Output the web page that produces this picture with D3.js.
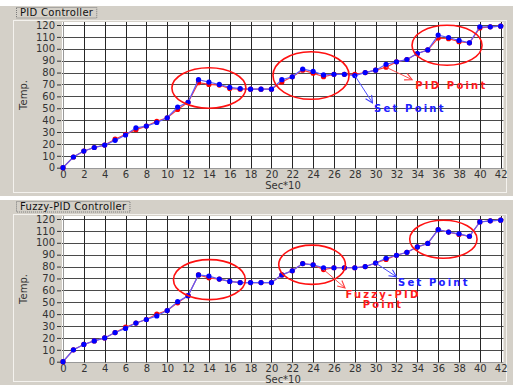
<!DOCTYPE html>
<html>
<head>
<meta charset="utf-8">
<script src="https://cdn.jsdelivr.net/npm/d3@7"></script>
<style>
  body { margin: 0; background: #fff; }
  svg { display: block; font-family: 'DejaVu Sans', sans-serif; }
</style>
</head>
<body>
<div id="chart"></div>
<script>
// time axis in Sec*10
const sec = [0,1,2,3,4,5,6,7,8,9,10,11,12,13,14,15,16,17,18,19,20,
  21,22,23,24,25,26,27,28,29,30,31,32,33,34,35,36,37,38,39,40,41,42];
const xTickValues = [0,2,4,6,8,10,12,14,16,18,20,22,24,26,28,30,32,34,36,38,40,42];
const yTickValues = [0,10,20,30,40,50,60,70,80,90,100,110,120];

// PID controller panel
const pidSetPoint = [0,9,14,17,19,23,27.5,33.5,35,38,42,51,55,74,72,70,67.5,66.5,66,66,66,
  74,76.5,83,81,78,78.5,78.5,77.5,80,82,87,89,91,96,99,111.5,109.5,107,105,118.5,118.5,119];
const pidPoint = [0,9,14,17,19,24,28,32,35,39,42,49,55,71.5,70,69.5,66.5,66,66,66,66,
  72,76.5,82,79.5,76.5,78.5,78.5,78.5,80,82,84.5,89,91,96,99,109,108.5,106,105,117.5,118.5,119];

// Fuzzy-PID controller panel
const fuzzySetPoint = [0,10,14.5,17.5,20,24.5,28,32.5,35.5,38.5,43,50.5,55.5,73,72,69.5,67.5,66.5,66.5,66.5,66.5,
  73,76.5,82.5,81.5,79,79,79,79,80,83,87,89.5,92,96.5,99.5,111,109,107.5,105.5,117.5,118.5,119];
const fuzzyPidPoint = [0,10,14.5,17.5,20,24.5,29,32.5,35.5,40,43,49.5,55.5,73,70.5,69.5,67.5,66.5,66.5,66.5,66.5,
  73,76.5,82.5,81.5,77.5,79,79,79,80,83,86,89.5,92,96.5,99.5,111,109,107,105.5,117.5,118.5,119];

const width = 513, height = 387;
const grey = '#d4d0c8';

const svg = d3.select('#chart').append('svg')
  .attr('width', width)
  .attr('height', height);

// arrow heads
const defs = svg.append('defs');
[['arrowBlue', '#3c3cff'], ['arrowRed', '#ff3c3c']].forEach(([id, c]) => {
  defs.append('marker')
    .attr('id', id)
    .attr('viewBox', '0 0 10 10')
    .attr('refX', 9).attr('refY', 5)
    .attr('markerWidth', 9).attr('markerHeight', 9)
    .attr('markerUnits', 'userSpaceOnUse')
    .attr('orient', 'auto')
    .append('path')
    .attr('d', 'M1,1 L9,5 L1,9')
    .attr('fill', 'none')
    .attr('stroke', c)
    .attr('stroke-width', 1.2);
});

function drawPanel(cfg) {
  let oy = cfg.top;
  let g = svg.append('g');

  // panel background + frame
  g.append('rect')
    .attr('x', 0).attr('y', oy + 6)
    .attr('width', width).attr('height', cfg.panelH)
    .attr('fill', grey);
  g.append('rect')
    .attr('x', 13.5).attr('y', oy + 20.5)
    .attr('width', 493).attr('height', cfg.panelH - 18)
    .attr('fill', 'none')
    .attr('stroke', '#f4f2ee');

  // title label
  let title = g.append('text')
    .attr('x', 20).attr('y', oy + 16)
    .attr('font-size', '10px')
    .attr('letter-spacing', '0.3px')
    .attr('fill', '#111')
    .text(cfg.title);
  let tw = title.node().getComputedTextLength();
  g.insert('rect', 'text')
    .attr('x', 16.5).attr('y', oy + 7.5)
    .attr('width', tw + 7).attr('height', 10.5)
    .attr('fill', grey)
    .attr('stroke', '#7a7a7a')
    .attr('stroke-dasharray', '1,1');

  // scales
  let x = d3.scaleLinear().domain([0, 42]).range([63, 500.7]);
  let y = d3.scaleLinear().domain([0, 120]).range([oy + 167.7, oy + 25]);

  // plot area
  g.append('rect')
    .attr('x', 62).attr('y', oy + 22)
    .attr('width', 441.5).attr('height', 146.5)
    .attr('fill', '#fff');

  // grid
  g.append('g').selectAll('line')
    .data(yTickValues)
    .enter().append('line')
    .attr('x1', 62).attr('x2', 503.5)
    .attr('y1', d => Math.round(y(d)) + 0.5)
    .attr('y2', d => Math.round(y(d)) + 0.5)
    .attr('stroke', d => d === 0 ? '#999' : '#4a4a4a');
  g.append('g').selectAll('line')
    .data(xTickValues)
    .enter().append('line')
    .attr('x1', d => Math.round(x(d)) + 0.5)
    .attr('x2', d => Math.round(x(d)) + 0.5)
    .attr('y1', oy + 22).attr('y2', oy + 168.5)
    .attr('stroke', d => d === 0 ? '#999' : '#262626');

  // axes
  let yAxis = d3.axisLeft(y).tickValues(yTickValues).tickSize(4).tickPadding(2);
  let ya = g.append('g')
    .attr('transform', 'translate(61,0)')
    .call(yAxis);
  let xAxis = d3.axisBottom(x).tickValues(xTickValues).tickSize(0).tickPadding(3);
  let xa = g.append('g')
    .attr('transform', 'translate(0,' + (oy + 167.7) + ')')
    .call(xAxis);
  [ya, xa].forEach(a => {
    a.select('.domain').remove();
    a.selectAll('line').attr('stroke', '#333');
    a.selectAll('text')
      .attr('font-family', "'DejaVu Sans', sans-serif")
      .attr('font-size', '10px')
      .attr('fill', '#333');
  });

  g.append('text')
    .attr('x', 283).attr('y', oy + 189)
    .attr('text-anchor', 'middle')
    .attr('font-size', '10px')
    .attr('fill', '#333')
    .text('Sec*10');
  g.append('text')
    .attr('transform', 'translate(27,' + (oy + 95) + ') rotate(-90)')
    .attr('text-anchor', 'middle')
    .attr('font-size', '10px')
    .attr('fill', '#333')
    .text('Temp.');

  // series: actual (red) under set point (blue)
  let line = d3.line().x((d, i) => x(sec[i])).y(d => y(d));
  [[cfg.actual, '#ff3a3a', '#ff0000'], [cfg.set, '#5a5aff', '#0000ff']].forEach(([vals, lc, mc]) => {
    g.append('path')
      .datum(vals)
      .attr('d', line)
      .attr('fill', 'none')
      .attr('stroke', lc)
      .attr('stroke-width', 1.2);
    g.append('g').selectAll('circle')
      .data(vals)
      .enter().append('circle')
      .attr('cx', (d, i) => x(sec[i]))
      .attr('cy', d => y(d))
      .attr('r', 2.6)
      .attr('fill', mc);
  });

  // red circles around regions
  g.append('g').selectAll('ellipse')
    .data(cfg.ellipses)
    .enter().append('ellipse')
    .attr('cx', d => x(d.cx))
    .attr('cy', d => y(d.cy))
    .attr('rx', d => x(d.cx + d.rx) - x(d.cx))
    .attr('ry', d => y(d.cy - d.ry) - y(d.cy))
    .attr('fill', 'none')
    .attr('stroke', '#ff1010')
    .attr('stroke-width', 1.6);

  // callouts
  cfg.notes.forEach(n => {
    g.append('line')
      .attr('x1', x(n.from[0])).attr('y1', y(n.from[1]))
      .attr('x2', x(n.to[0])).attr('y2', y(n.to[1]))
      .attr('stroke', n.arrowColor)
      .attr('stroke-width', 1)
      .attr('marker-end', 'url(#' + n.marker + ')');
    n.lines.forEach((t, i) => {
      g.append('text')
        .attr('x', x(n.tx)).attr('y', y(n.ty) + i * 10.5)
        .attr('text-anchor', n.anchor)
        .attr('font-size', '10px')
        .attr('font-weight', 'bold')
        .attr('letter-spacing', '2.2px')
        .attr('fill', n.color)
        .text(t);
    });
  });
}

drawPanel({
  top: 0,
  panelH: 190,
  title: 'PID Controller',
  set: pidSetPoint,
  actual: pidPoint,
  ellipses: [
    {cx: 14, cy: 67, rx: 3.55, ry: 17},
    {cx: 23.8, cy: 77.5, rx: 3.65, ry: 20},
    {cx: 36.85, cy: 103, rx: 3.36, ry: 16.8}
  ],
  notes: [
    {from: [28, 77.5], to: [29.7, 54.5], tx: 29.85, ty: 47, lines: ['Set Point'],
      anchor: 'start', color: '#2020ff', arrowColor: '#4a4aff', marker: 'arrowBlue'},
    {from: [31, 84.5], to: [33.5, 74], tx: 33.8, ty: 66.5, lines: ['PID Point'],
      anchor: 'start', color: '#ff1a1a', arrowColor: '#ff5050', marker: 'arrowRed'}
  ]
});

drawPanel({
  top: 194,
  panelH: 185,
  title: 'Fuzzy-PID Controller',
  set: fuzzySetPoint,
  actual: fuzzyPidPoint,
  ellipses: [
    {cx: 14.05, cy: 69, rx: 3.45, ry: 16.8},
    {cx: 23.9, cy: 81.5, rx: 3.2, ry: 16.5},
    {cx: 36.5, cy: 103, rx: 3.23, ry: 16}
  ],
  notes: [
    {from: [30, 83], to: [32, 71.4], tx: 32.15, ty: 64, lines: ['Set Point'],
      anchor: 'start', color: '#2020ff', arrowColor: '#4a4aff', marker: 'arrowBlue'},
    {from: [25, 77.5], to: [27.06, 62], tx: 30.7, ty: 53.6, lines: ['Fuzzy-PID', 'Point'],
      anchor: 'middle', color: '#ff1a1a', arrowColor: '#ff5050', marker: 'arrowRed'}
  ]
});
</script>
</body>
</html>
